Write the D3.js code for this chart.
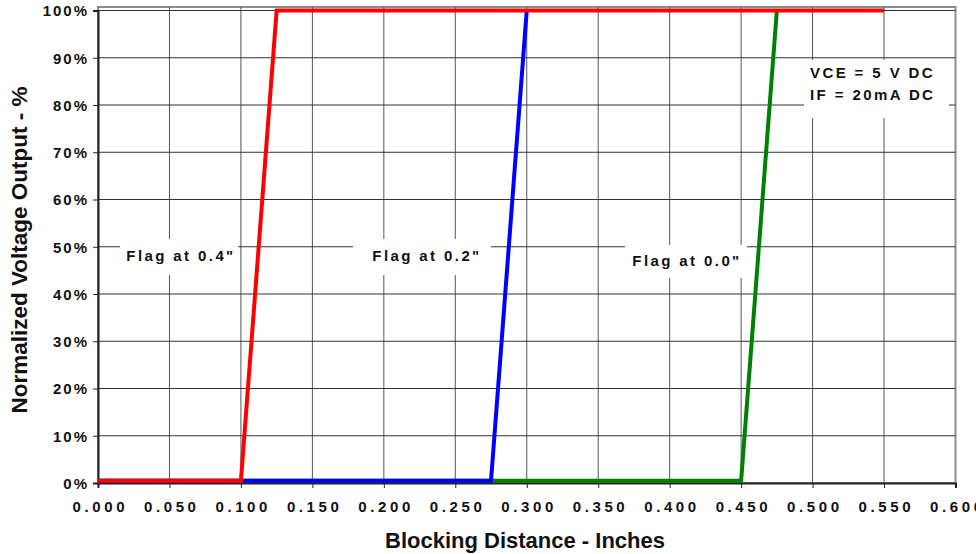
<!DOCTYPE html>
<html>
<head>
<meta charset="utf-8">
<script src="https://cdn.jsdelivr.net/npm/d3@7/dist/d3.min.js"></script>
<style>
	body { margin: 0; background: #fff; }
	text { font-family: "Liberation Sans", Arial, sans-serif; font-weight: bold; fill: #111; }
	.tick-label { font-size: 15px; }
	.note { font-size: 15px; letter-spacing: 2.4px; }
	.title { font-size: 22px; }
</style>
</head>
<body>
<div id="chart"></div>
<script>
// tick values
var xTickValues = [0, 0.05, 0.1, 0.15, 0.2, 0.25, 0.3, 0.35, 0.4, 0.45, 0.5, 0.55, 0.6];
var yTickValues = [0, 10, 20, 30, 40, 50, 60, 70, 80, 90, 100];

// series, drawn green first so that red ends up on top
var seriesNames = ['Flag at 0.0"', 'Flag at 0.2"', 'Flag at 0.4"'];
var seriesColors = ['#008000', '#0000ff', '#ff0000'];
var greenX = [0, 0.45, 0.475];
var greenY = [0.5, 0.5, 100];
var blueX = [0, 0.275, 0.3];
var blueY = [0.5, 0.5, 100];
var redX = [0, 0.1, 0.125, 0.55];
var redY = [0.5, 0.5, 100, 100];

var conditionLines = ['VCE = 5 V DC', 'IF = 20mA DC'];

var width = 976, height = 554;
var plotLeft = 98, plotRight = 955.5, plotTop = 10.5, plotBottom = 483;

var svg = d3.select('#chart').append('svg')
	.attr('width', width)
	.attr('height', height);

var x = d3.scaleLinear().domain([0, 0.6]).range([plotLeft, plotRight]);
var y = d3.scaleLinear().domain([0, 100]).range([plotBottom, plotTop]);

// plot frame (grey top and right edge)
svg.append('rect')
	.attr('x', plotLeft).attr('y', 7)
	.attr('width', plotRight - plotLeft).attr('height', plotBottom - 7)
	.attr('fill', 'none')
	.attr('stroke', '#8c8c8c')
	.attr('stroke-width', 2);

// grid lines
svg.append('g')
	.selectAll('line')
	.data(xTickValues.slice(1, -1))
	.enter().append('line')
	.attr('x1', function(d) { return x(d); })
	.attr('x2', function(d) { return x(d); })
	.attr('y1', 7).attr('y2', plotBottom)
	.attr('stroke', '#555').attr('stroke-width', 1);

svg.append('g')
	.selectAll('line')
	.data(yTickValues.slice(1))
	.enter().append('line')
	.attr('x1', plotLeft).attr('x2', plotRight)
	.attr('y1', function(d) { return y(d); })
	.attr('y2', function(d) { return y(d); })
	.attr('stroke', '#333').attr('stroke-width', 1);

// axes
var xAxis = d3.axisBottom(x)
	.tickValues(xTickValues)
	.tickSize(5)
	.tickFormat(d3.format('.3f'));
var yAxis = d3.axisLeft(y)
	.tickValues(yTickValues)
	.tickSize(5)
	.tickFormat(function(d) { return d + '%'; });

var gx = svg.append('g').attr('transform', 'translate(0,' + plotBottom + ')').call(xAxis);
var gy = svg.append('g').attr('transform', 'translate(' + plotLeft + ',0)').call(yAxis);

[gx, gy].forEach(function(g) {
	g.select('.domain').attr('stroke', '#222').attr('stroke-width', 2);
	g.selectAll('.tick line').attr('stroke', '#222');
	g.selectAll('.tick text')
		.attr('class', 'tick-label')
		.attr('fill', '#111')
		.style('font-family', '"Liberation Sans", Arial, sans-serif');
});
gx.selectAll('.tick text')
	.style('letter-spacing', '3.6px')
	.attr('y', 29).attr('dy', 0).attr('dx', 1.8);
gy.selectAll('.tick text')
	.style('letter-spacing', '2px')
	.attr('x', -9).attr('dy', '0.36em');

// series lines
var line = d3.line()
	.x(function(d) { return x(d[0]); })
	.y(function(d) { return y(d[1]); });

var seriesData = [d3.zip(greenX, greenY), d3.zip(blueX, blueY), d3.zip(redX, redY)];

svg.append('g')
	.selectAll('path')
	.data(seriesData)
	.enter().append('path')
	.attr('d', line)
	.attr('fill', 'none')
	.attr('stroke', function(d, i) { return seriesColors[i]; })
	.attr('stroke-width', 4)
	.attr('stroke-linejoin', 'miter');

// flag labels with white boxes over the grid
var flagBoxes = [
	{ x: 625, y: 245, w: 122, h: 33, tx: 687, ty: 266 },
	{ x: 353, y: 239, w: 138, h: 36, tx: 427, ty: 261 },
	{ x: 120, y: 239, w: 118, h: 36, tx: 181, ty: 261 }
];

flagBoxes.forEach(function(b, i) {
	svg.append('rect')
		.attr('x', b.x).attr('y', b.y)
		.attr('width', b.w).attr('height', b.h)
		.attr('fill', '#fff');
	svg.append('text')
		.attr('class', 'note')
		.attr('x', b.tx).attr('y', b.ty)
		.attr('text-anchor', 'middle')
		.text(seriesNames[i]);
});

// test conditions
svg.append('rect')
	.attr('x', 804).attr('y', 60)
	.attr('width', 145).attr('height', 58)
	.attr('fill', '#fff');
svg.append('g').selectAll('text')
	.data(conditionLines)
	.enter().append('text')
	.attr('class', 'note')
	.attr('x', 810)
	.attr('y', function(d, i) { return 78 + i * 22; })
	.text(function(d) { return d; });

// axis titles
svg.append('text')
	.attr('class', 'title')
	.attr('x', 525)
	.attr('y', 548)
	.attr('text-anchor', 'middle')
	.text('Blocking Distance - Inches');

svg.append('text')
	.attr('class', 'title')
	.style('font-size', '22.5px')
	.attr('transform', 'translate(27,250) rotate(-90)')
	.attr('text-anchor', 'middle')
	.text('Normalized Voltage Output - %');
</script>
</body>
</html>
